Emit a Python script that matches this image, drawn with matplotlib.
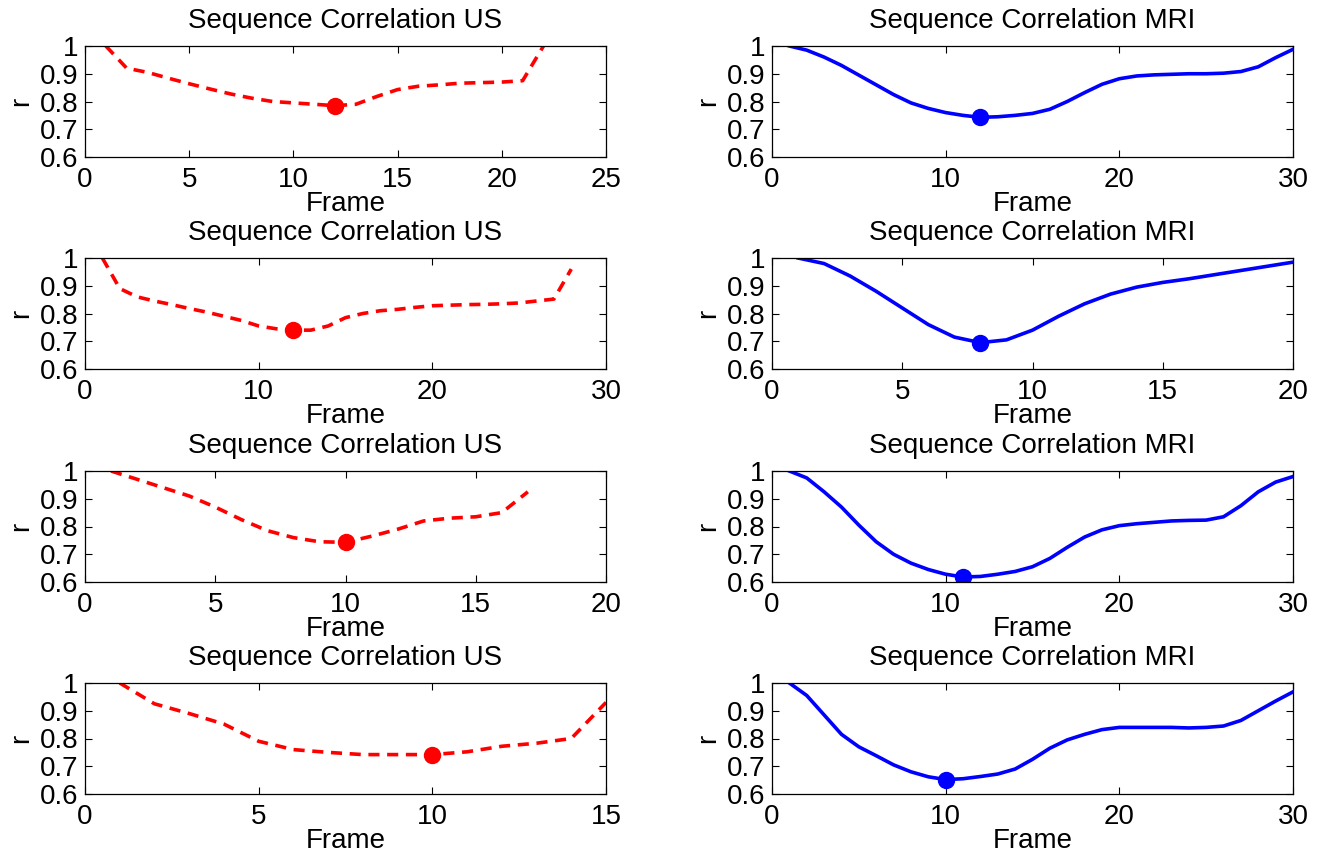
import matplotlib
matplotlib.use("Agg")
import matplotlib.pyplot as plt

plt.rcParams['font.family'] = ['Liberation Sans', 'DejaVu Sans']
plt.rcParams['lines.scale_dashes'] = False

# ---- data ----
us1_x = list(range(1, 23))
us1_y = [1.0, 0.92, 0.905, 0.884, 0.864, 0.845, 0.827, 0.812, 0.80, 0.795, 0.79,
         0.785, 0.79, 0.818, 0.843, 0.855, 0.86, 0.866, 0.868, 0.87, 0.875, 1.0]
us1_min = (12, 0.785)

mri1_x = list(range(1, 31))
mri1_y = [1.0, 0.985, 0.96, 0.93, 0.895, 0.86, 0.825, 0.795, 0.775, 0.76, 0.75,
          0.743, 0.745, 0.75, 0.757, 0.772, 0.80, 0.832, 0.862, 0.882, 0.892,
          0.896, 0.898, 0.90, 0.90, 0.902, 0.908, 0.925, 0.958, 0.988]
mri1_min = (12, 0.743)

us2_x = list(range(1, 29))
us2_y = [1.0, 0.89, 0.86, 0.845, 0.832, 0.818, 0.805, 0.79, 0.775, 0.755, 0.745,
         0.74, 0.74, 0.755, 0.785, 0.80, 0.81, 0.815, 0.822, 0.828, 0.83, 0.832,
         0.833, 0.835, 0.838, 0.845, 0.852, 0.96]
us2_min = (12, 0.74)

mri2_x = list(range(1, 21))
mri2_y = [1.0, 0.98, 0.935, 0.88, 0.82, 0.76, 0.715, 0.695, 0.705, 0.74, 0.79,
          0.835, 0.87, 0.895, 0.912, 0.925, 0.94, 0.955, 0.97, 0.985]
mri2_min = (8, 0.695)

us3_x = list(range(1, 18))
us3_y = [1.0, 0.97, 0.94, 0.91, 0.87, 0.825, 0.785, 0.76, 0.745, 0.743, 0.765,
         0.79, 0.82, 0.83, 0.835, 0.85, 0.925]
us3_min = (10, 0.743)

mri3_x = list(range(1, 31))
mri3_y = [1.0, 0.975, 0.925, 0.87, 0.805, 0.745, 0.70, 0.668, 0.645, 0.628, 0.618,
          0.62, 0.628, 0.638, 0.655, 0.685, 0.725, 0.762, 0.788, 0.803, 0.81,
          0.815, 0.82, 0.822, 0.823, 0.835, 0.875, 0.925, 0.96, 0.98]
mri3_min = (11, 0.618)

us4_x = list(range(1, 16))
us4_y = [1.0, 0.925, 0.89, 0.852, 0.79, 0.76, 0.75, 0.742, 0.742, 0.742, 0.752,
         0.772, 0.783, 0.80, 0.93]
us4_min = (10, 0.742)

mri4_x = list(range(1, 31))
mri4_y = [1.0, 0.955, 0.885, 0.815, 0.77, 0.738, 0.705, 0.68, 0.662, 0.652, 0.655,
          0.663, 0.672, 0.69, 0.725, 0.765, 0.795, 0.815, 0.832, 0.84, 0.84, 0.84,
          0.84, 0.838, 0.84, 0.845, 0.865, 0.90, 0.935, 0.968]
mri4_min = (10, 0.652)

us_xlims = [25, 30, 20, 15]
us_xticks = [[0, 5, 10, 15, 20, 25], [0, 10, 20, 30], [0, 5, 10, 15, 20], [0, 5, 10, 15]]
mri_xlims = [30, 20, 30, 30]
mri_xticks = [[0, 10, 20, 30], [0, 5, 10, 15, 20], [0, 10, 20, 30], [0, 10, 20, 30]]
yticks = [0.6, 0.7, 0.8, 0.9, 1.0]
ytick_labels = ['0.6', '0.7', '0.8', '0.9', '1']

us_data = [(us1_x, us1_y, us1_min), (us2_x, us2_y, us2_min),
           (us3_x, us3_y, us3_min), (us4_x, us4_y, us4_min)]
mri_data = [(mri1_x, mri1_y, mri1_min), (mri2_x, mri2_y, mri2_min),
            (mri3_x, mri3_y, mri3_min), (mri4_x, mri4_y, mri4_min)]

W, H = 1322, 852
fig = plt.figure(figsize=(W / 100, H / 100), dpi=100)

fs = 20
lefts = [85 / W, 772 / W]
width = 521 / W
height = 111 / H
tops = [46, 258, 471, 683]


def style(ax, xmax, xt):
    ax.set_xlim(0, xmax)
    ax.set_ylim(0.6, 1.0)
    ax.set_xticks(xt)
    ax.set_xticklabels([str(v) for v in xt])
    ax.set_yticks(yticks)
    ax.set_yticklabels(ytick_labels)
    ax.tick_params(direction='in', top=True, right=True, length=5, width=0.8,
                   labelsize=fs)
    ax.tick_params(axis='x', pad=7)
    ax.tick_params(axis='y', pad=5)
    for s in ax.spines.values():
        s.set_linewidth(0.9)
    ax.set_xlabel('Frame', fontsize=fs, labelpad=-1)
    ax.set_ylabel('r', fontsize=fs, labelpad=4)


for i in range(4):
    bottom = 1 - (tops[i] + 111) / H
    ax = fig.add_axes([lefts[0], bottom, width, height])
    x, y, m = us_data[i]
    ax.plot(x, y, color='red', lw=2.6, dashes=(8, 5.5))
    ax.plot([m[0]], [m[1]], 'o', color='red', ms=11.5)
    style(ax, us_xlims[i], us_xticks[i])
    ax.set_title('Sequence Correlation US', fontsize=fs, pad=13)

    ax2 = fig.add_axes([lefts[1], bottom, width, height])
    x, y, m = mri_data[i]
    ax2.plot(x, y, color='blue', lw=2.6, solid_joinstyle='round')
    ax2.plot([m[0]], [m[1]], 'o', color='blue', ms=11.5)
    style(ax2, mri_xlims[i], mri_xticks[i])
    ax2.set_title('Sequence Correlation MRI', fontsize=fs, pad=13)

fig.savefig('out.png', dpi=100)
